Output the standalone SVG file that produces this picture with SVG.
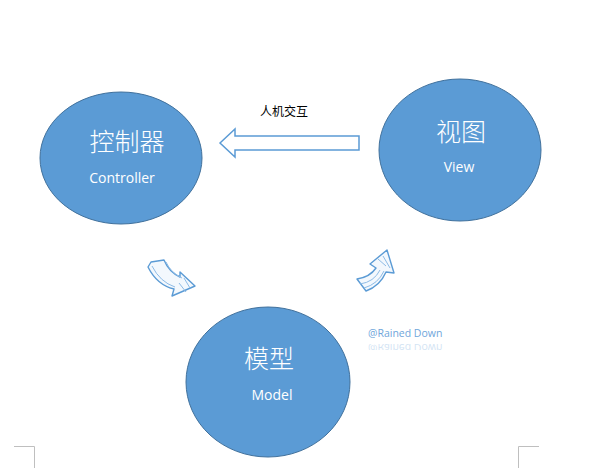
<svg xmlns="http://www.w3.org/2000/svg" width="594" height="468" viewBox="0 0 594 468">
  <style>
    .node { fill: #5b9bd5; stroke: #41719c; stroke-width: 1; }
    .zh { font-family: "Noto Sans CJK SC", "Noto Sans CJK JP", sans-serif; font-weight: 300; font-size: 25px; fill: #ffffff; text-anchor: middle; }
    .en { font-family: "Open Sans", "Liberation Sans", sans-serif; font-size: 14px; fill: #ffffff; text-anchor: middle; }
    .label { font-family: "Noto Sans CJK SC", sans-serif; font-size: 12px; fill: #000000; }
    .hollow { fill: #ffffff; stroke: #5b9bd5; stroke-width: 1.5; stroke-linejoin: miter; }
    .sketch { fill: #f3f8fd; stroke: #5b9bd5; stroke-width: 1.4; stroke-linejoin: round; }
    .hatch { fill: none; stroke: #8dbbe6; stroke-width: 1; }
    .corner { fill: none; stroke: #bfbfbf; stroke-width: 1; }
    .wm { font-family: "Open Sans", "Liberation Sans", sans-serif; font-size: 10.5px; fill: #6fa6db; }
  </style>
  <defs>
    <clipPath id="reflClip">
      <rect x="360" y="344" width="100" height="6"/>
    </clipPath>
  </defs>

  <g id="controller">
    <ellipse class="node" cx="121" cy="158" rx="81" ry="66"/>
    <text class="zh" x="127" y="151">控制器</text>
    <text class="en" x="122" y="183">Controller</text>
  </g>

  <g id="view">
    <ellipse class="node" cx="460" cy="150" rx="81" ry="71"/>
    <text class="zh" x="461" y="141">视图</text>
    <text class="en" x="459" y="172">View</text>
  </g>

  <g id="model">
    <ellipse class="node" cx="268" cy="382" rx="82" ry="75"/>
    <text class="zh" x="269" y="368">模型</text>
    <text class="en" x="272" y="400">Model</text>
  </g>

  <g id="connectors">
    <path class="hollow" d="M220,143 L235,129 L235,136 L359,136 L359,150 L235,150 L235,157 Z"/>
    <text class="label" x="260" y="116">人机交互</text>

    <g id="arrow-controller-model">
      <path class="sketch" d="M148,267 L151,262 L164,260 Q169,272 180,277 L180,272 L195,286 L172,296 L174,289 Q157,285 148,267 Z"/>
      <path class="hatch" d="M152,266 Q160,282 175,287 M166,262 Q171,273 182,278 M184,278 L190,288 M179,283 L186,292"/>
    </g>

    <g id="arrow-model-view">
      <path class="sketch" d="M357,279 Q370,277 376,268 L370,264 L387,250 L394,273 L386,272 Q380,286 366,291 Z"/>
      <path class="hatch" d="M360,284 Q374,282 380,270 M364,288 Q378,284 384,271 M383,256 L390,268 M378,259 L386,266"/>
    </g>
  </g>

  <g id="watermark">
    <text class="wm" x="368" y="337">@Rained Down</text>
    <g clip-path="url(#reflClip)" opacity="0.3">
      <text class="wm" x="368" y="-344" transform="scale(1,-1)">@Rained Down</text>
    </g>
  </g>

  <g id="corners">
    <path class="corner" d="M14,446.5 L34.5,446.5 L34.5,468"/>
    <path class="corner" d="M539,446.5 L518.5,446.5 L518.5,468"/>
  </g>
</svg>
